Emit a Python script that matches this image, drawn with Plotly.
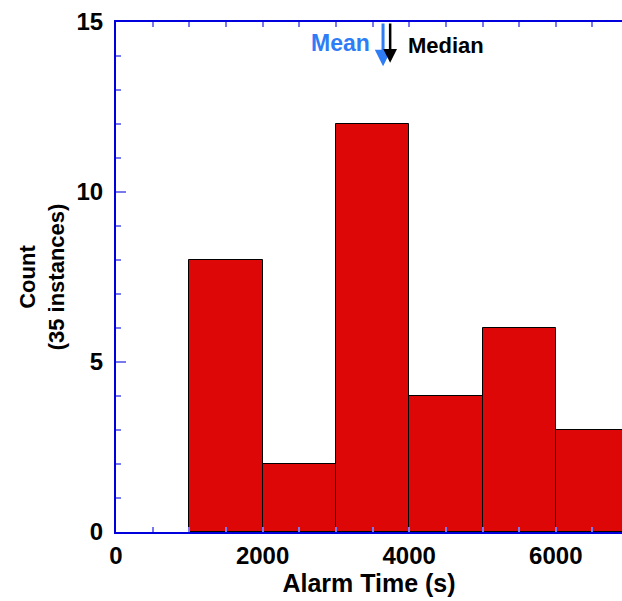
import plotly.graph_objects as go

bin_starts = [1000, 2000, 3000, 4000, 5000, 6000]
bin_width = 1000
counts = [8, 2, 12, 4, 6, 3]
mean_value = 3643
median_value = 3740
x_tick_vals = [0, 2000, 4000, 6000]
y_tick_vals = [0, 5, 10, 15]

centers = [s + bin_width / 2 for s in bin_starts]

FONT = "Liberation Sans, Arial, sans-serif"
AXIS_BLUE = "#0000dd"
TICK_BLUE = "#7878f0"

fig = go.Figure()
fig.add_trace(go.Bar(
    x=centers, y=counts, width=[bin_width] * len(counts),
    marker=dict(color="#dd0707", line=dict(color="black", width=1)),
    showlegend=False,
))

fig.add_annotation(x=mean_value, y=13.7, ax=mean_value, ay=15, xref="x", yref="y",
                   axref="x", ayref="y", showarrow=True, arrowhead=2, arrowsize=1.1,
                   arrowwidth=3, arrowcolor="#2e7cf6", text="")
fig.add_annotation(x=median_value, y=13.8, ax=median_value, ay=15, xref="x", yref="y",
                   axref="x", ayref="y", showarrow=True, arrowhead=2, arrowsize=1.1,
                   arrowwidth=2.5, arrowcolor="black", text="")
fig.add_annotation(x=mean_value - 150, y=14.38, xref="x", yref="y", xanchor="right",
                   yanchor="middle", showarrow=False, text="<b>Mean</b>",
                   font=dict(family=FONT, size=23, color="#2e7cf6"))
fig.add_annotation(x=median_value + 215, y=14.32, xref="x", yref="y", xanchor="left",
                   yanchor="middle", showarrow=False, text="<b>Median</b>",
                   font=dict(family=FONT, size=22, color="black"))

fig.update_layout(
    width=622, height=601,
    margin=dict(l=116, r=0, t=22, b=69),
    plot_bgcolor="white", paper_bgcolor="white",
    bargap=0,
    font=dict(family=FONT, color="black"),
    xaxis=dict(
        range=[0, 6903], tickvals=x_tick_vals, ticktext=[f"<b>{v}</b>" for v in x_tick_vals],
        ticks="inside", ticklen=5, tickwidth=2, tickcolor=TICK_BLUE,
        minor=dict(dtick=500, ticks="inside", ticklen=5, tickwidth=2, tickcolor=TICK_BLUE),
        showline=True, linecolor=AXIS_BLUE, linewidth=2, mirror="ticks",
        showgrid=False, zeroline=False,
        tickfont=dict(family=FONT, size=24, color="black"),
        ticklabelstandoff=1,
        title=dict(text="<b>Alarm Time (s)</b>", font=dict(family=FONT, size=25), standoff=2),
    ),
    yaxis=dict(
        range=[0, 15], tickvals=y_tick_vals, ticktext=[f"<b>{v}</b>" for v in y_tick_vals],
        ticks="inside", ticklen=10, tickwidth=2, tickcolor=TICK_BLUE,
        minor=dict(dtick=1, ticks="inside", ticklen=5, tickwidth=2, tickcolor=TICK_BLUE),
        showline=True, linecolor=AXIS_BLUE, linewidth=2, mirror=False,
        showgrid=False, zeroline=False,
        tickfont=dict(family=FONT, size=24, color="black"),
        ticklabelstandoff=6,
        title=dict(text="<b>Count<br>(35 instances)</b>", font=dict(family=FONT, size=22), standoff=6),
    ),
)

fig.write_html(
    "out.html",
    config={"displayModeBar": False},
    post_script="document.body.style.margin='0';document.body.style.overflow='hidden';",
)
